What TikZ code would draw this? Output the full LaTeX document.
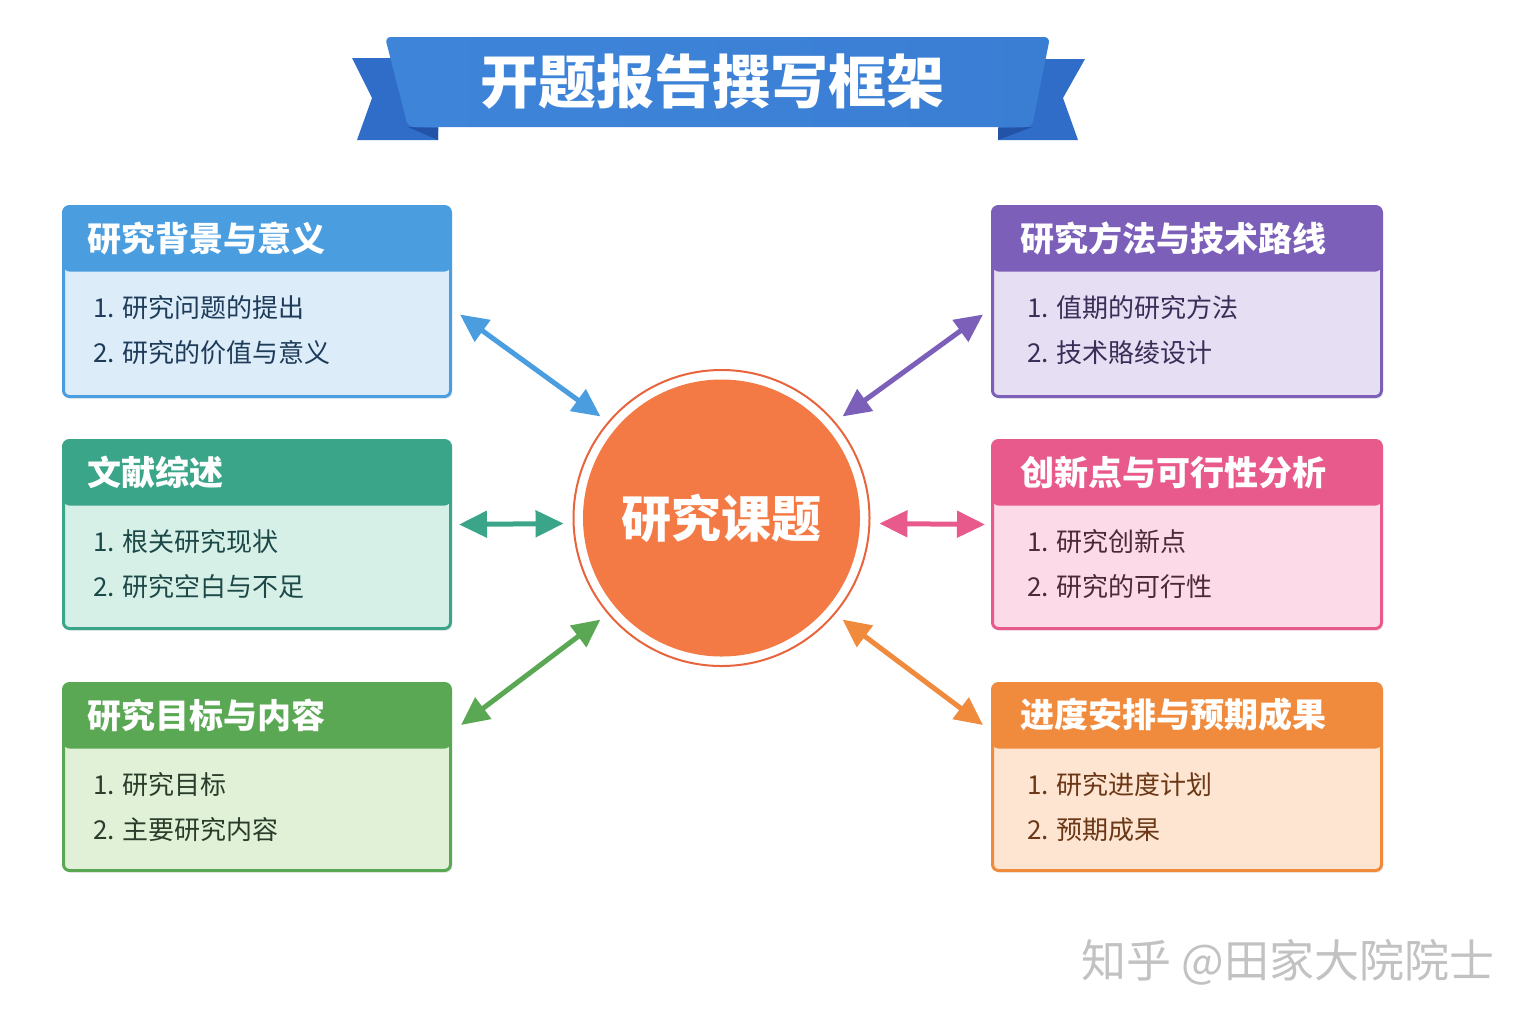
\documentclass[tikz,border=0pt]{standalone}
\usepackage{fontspec}
\setmainfont{Noto Sans CJK SC}
\usetikzlibrary{arrows.meta,calc,shadows}

\definecolor{B}{HTML}{4A9EE0}\definecolor{Bl}{HTML}{DCEDF9}\definecolor{Bt}{HTML}{1E3C5A}
\definecolor{T}{HTML}{3AA588}\definecolor{Tl}{HTML}{D6F0E7}\definecolor{Tt}{HTML}{1C4848}
\definecolor{G}{HTML}{5AA853}\definecolor{Gl}{HTML}{E0F1D8}\definecolor{Gt}{HTML}{2A3D2A}
\definecolor{P}{HTML}{7B5FB9}\definecolor{Pl}{HTML}{E6DEF2}\definecolor{Pt}{HTML}{3A2D58}
\definecolor{K}{HTML}{E85A8C}\definecolor{Kl}{HTML}{FCDAE7}\definecolor{Kt}{HTML}{4D2835}
\definecolor{O}{HTML}{F08A3C}\definecolor{Ol}{HTML}{FDE5D1}\definecolor{Ot}{HTML}{6B3716}
\definecolor{bmain}{HTML}{3E85D9}\definecolor{bmain2}{HTML}{3A7ED4}
\definecolor{btail}{HTML}{2F6DC8}\definecolor{bfold}{HTML}{2253A6}
\definecolor{ringc}{HTML}{E8643C}\definecolor{topicfill}{HTML}{F47A45}
\definecolor{wmgray}{HTML}{C2C2C2}

\tikzset{
  fwshape/.style={rectangle, rounded corners=3pt, line width=1.5pt, anchor=north west, inner sep=0pt,
    drop shadow={opacity=0.12, shadow xshift=0.8pt, shadow yshift=-1.2pt}},
  fwhead/.style={anchor=west, inner sep=0pt, text=white, font=\fontsize{17}{20}\selectfont\bfseries},
  fwitem/.style={anchor=west, inner sep=0pt, font=\fontsize{13}{15}\selectfont},
  arr/.style={line width=2.5pt, {Triangle[length=14pt,width=13pt]}-{Triangle[length=14pt,width=13pt]}},
}

\def\hx{25}\def\ix{31}
\newcommand\fwbox[9]{%
  \node[fwshape, draw=#6, fill=#6l, minimum width=#4, minimum height=#5,
        path picture={\fill[#6] (path picture bounding box.north west) rectangle ($(path picture bounding box.north east)+(0,65)$);}] (#1) at (#2,#3) {};
  \node[fwhead] (#1-h) at ($(#1.north west)+(\hx,33)$) {#7};
  \node[fwitem, text=#6t] (#1-a) at ($(#1.north west)+(\ix,103)$) {1. #8};
  \node[fwitem, text=#6t] (#1-b) at ($(#1.north west)+(\ix,148)$) {2. #9};
}

\begin{document}
\begin{tikzpicture}[x=0.5pt,y=-0.5pt]
\useasboundingbox (0,0) rectangle (1536,1024);
\fill[white] (0,0) rectangle (1536,1024);

% banner
\fill[btail] (352,58) -- (440,58) -- (438,140) -- (357,140) -- (372,98) -- cycle;
\fill[btail] (1085,59) -- (1000,59) -- (998,140) -- (1078,140) -- (1063,98) -- cycle;
\fill[bfold] (408,127) -- (438,128) -- (438,140) -- cycle;
\fill[bfold] (1032,127) -- (998,128) -- (998,140) -- cycle;
\shade[left color=bmain, right color=bmain2, rounded corners=3pt] (385,37) -- (1050,37) -- (1032,127) -- (408,127) -- cycle;
\node[text=white, font=\fontsize{29}{32}\selectfont\bfseries] (title) at (712,82) {开题报告撰写框架};

% boxes
\fwbox{bg}{62}{205}{193.5pt}{95pt}{B}{研究背景与意义}{研究问题的提出}{研究的价值与意义}
\fwbox{lit}{62}{439}{193.5pt}{94pt}{T}{文献综述}{根关研究现状}{研究空白与不足}
\fwbox{goal}{62}{682}{193.5pt}{93.5pt}{G}{研究目标与内容}{研究目标}{主要研究内容}
\def\hx{29}\def\ix{36}
\fwbox{meth}{991}{205}{194.5pt}{95pt}{P}{研究方法与技术路线}{值期的研究方法}{技术賂绫设计}
\fwbox{inno}{991}{439}{194.5pt}{94pt}{K}{创新点与可行性分析}{研究创新点}{研究的可行性}
\fwbox{plan}{991}{682}{194.5pt}{93.5pt}{O}{进度安排与预期成果}{研究进度计划}{预期成杲}

% center
\node[circle, minimum size=148pt, draw=ringc, line width=1pt, fill=white, outer sep=5pt] (topic) at (721.5,518) {};
\node[circle, minimum size=138.5pt, fill=topicfill, text=white, inner sep=0pt,
      font=\fontsize{25}{28}\selectfont\bfseries] (core) at (topic.center) {研究课题};

% arrows
\draw[arr, B] ($(bg.east)+(8,13)$) -- (topic.140);
\draw[arr, T] ($(lit.east)+(7,-10)$) -- (topic.182);
\draw[arr, G] ($(goal.east)+(9,-52)$) -- (topic.220);
\draw[arr, P] ($(meth.west)+(-8,13)$) -- (topic.40);
\draw[arr, K] ($(inno.west)+(-6,-10)$) -- (topic.358);
\draw[arr, O] ($(plan.west)+(-8,-52)$) -- (topic.320);

% watermark
\node[text=wmgray, font=\fontsize{22.5}{26}\selectfont] (wm) at (1288,962) {知乎 @田家大院院士};
\end{tikzpicture}
\end{document}
